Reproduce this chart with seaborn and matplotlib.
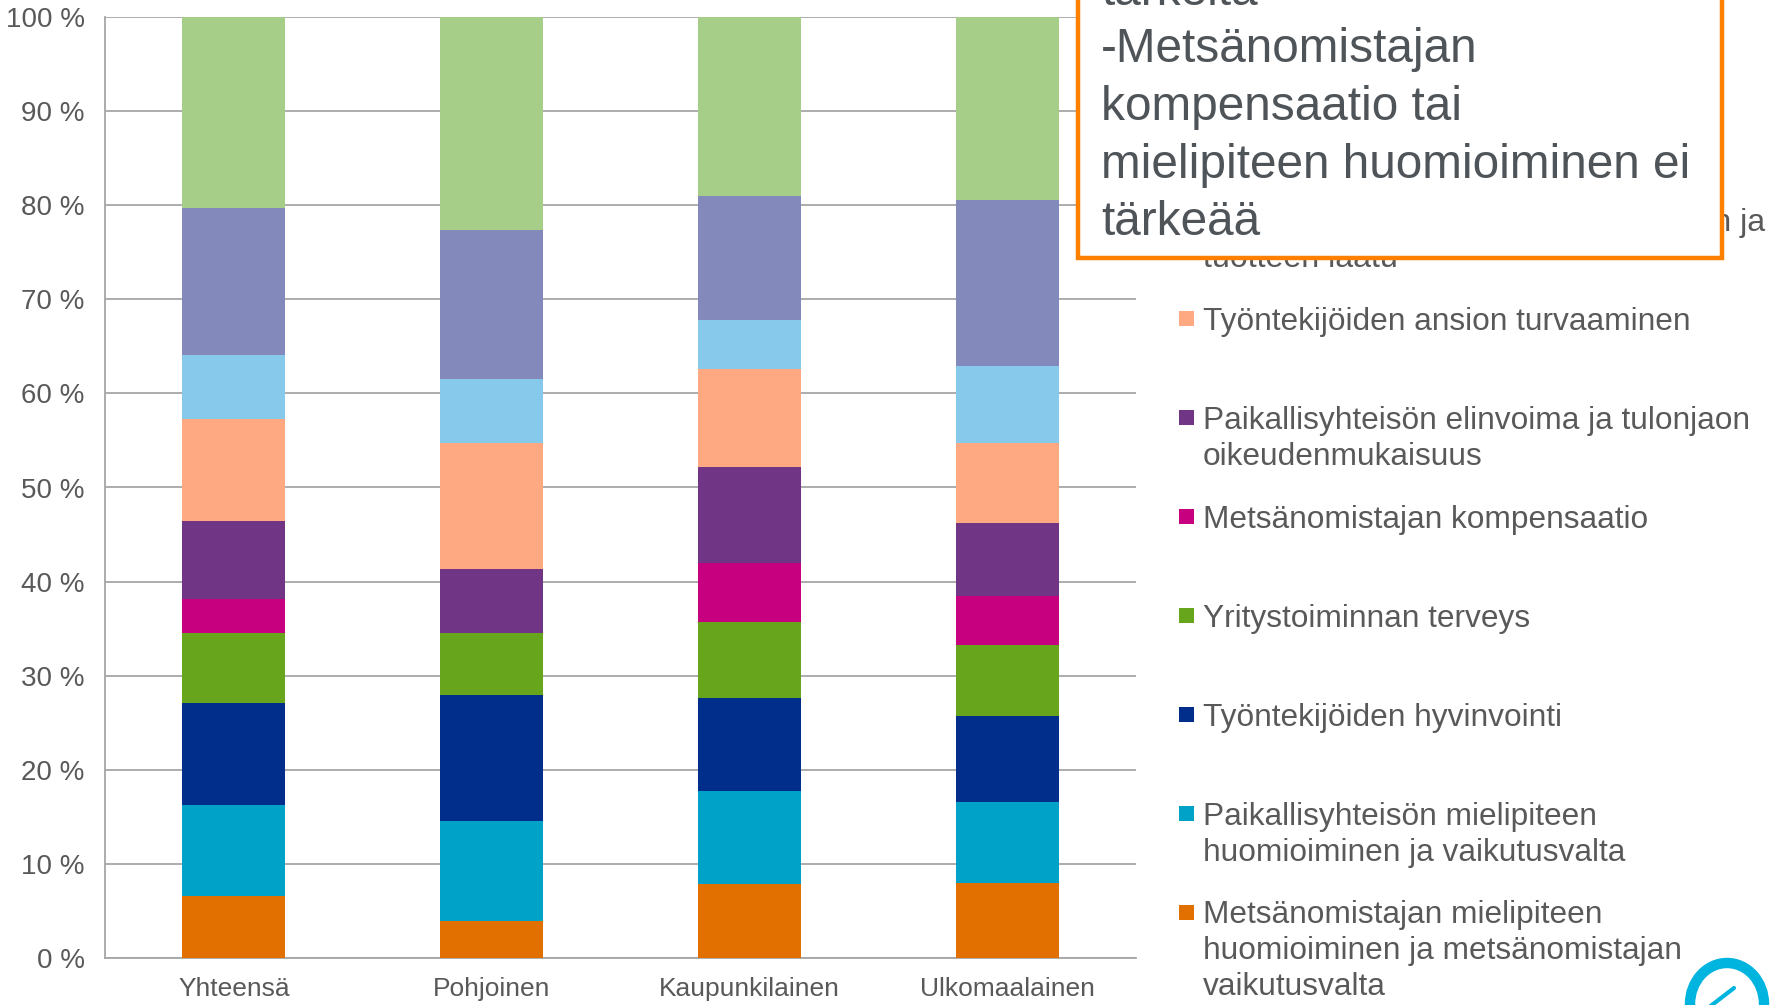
import numpy as np
import pandas as pd
import matplotlib
matplotlib.use("Agg")
import matplotlib.pyplot as plt
from matplotlib.patches import Rectangle, Ellipse
from matplotlib.lines import Line2D
import seaborn as sns

# ---------------- data ----------------
categories = ["Yhteensä", "Pohjoinen", "Kaupunkilainen", "Ulkomaalainen"]

series_labels = [
    "Metsänomistajan mielipiteen\nhuomioiminen ja metsänomistajan\nvaikutusvalta",
    "Paikallisyhteisön mielipiteen\nhuomioiminen ja vaikutusvalta",
    "Työntekijöiden hyvinvointi",
    "Yritystoiminnan terveys",
    "Metsänomistajan kompensaatio",
    "Paikallisyhteisön elinvoima ja tulonjaon\noikeudenmukaisuus",
    "Työntekijöiden ansion turvaaminen",
    "Metsänhoidon ja puunkorjuun laadun ja\ntuotteen laatu",
    "Ympäristön tila",
    "Luonnon monimuotoisuus",
]

series_colors = ["#E17000", "#00A2C8", "#002E8A", "#67A61C", "#C70080",
                 "#713585", "#FFA983", "#86C9EB", "#8489BB", "#A7CE88"]

# percent shares per category (bottom -> top)
v_metsanomistaja_mielipide = [6.6, 3.9, 7.9, 8.0]
v_paikallis_mielipide      = [9.7, 10.65, 9.9, 8.6]
v_tyontekija_hyvinvointi   = [10.8, 13.35, 9.85, 9.1]
v_yritystoiminta           = [7.4, 6.65, 8.05, 7.6]
v_kompensaatio             = [3.6, 0.0, 6.25, 5.15]
v_paikallis_elinvoima      = [8.3, 6.8, 10.25, 7.75]
v_ansio                    = [10.9, 13.35, 10.35, 8.55]
v_laatu                    = [6.8, 6.8, 5.3, 8.2]
v_ymparisto                = [15.6, 15.85, 13.15, 17.55]
v_monimuotoisuus           = [20.3, 22.6, 19.0, 19.5]

values = [v_metsanomistaja_mielipide, v_paikallis_mielipide, v_tyontekija_hyvinvointi,
          v_yritystoiminta, v_kompensaatio, v_paikallis_elinvoima, v_ansio,
          v_laatu, v_ymparisto, v_monimuotoisuus]

ytick_values = [0, 10, 20, 30, 40, 50, 60, 70, 80, 90, 100]
ytick_labels = [f"{v} %" for v in ytick_values]

box_lines = ["tärkeitä", "-Metsänomistajan", "kompensaatio tai",
             "mielipiteen huomioiminen ei", "tärkeää"]

# ---------------- style ----------------
sns.set_theme(style="white")
plt.rcParams["font.family"] = ["Liberation Sans", "DejaVu Sans"]
TXT = "#595959"
GRID = "#A6A6A6"

W, H = 1774, 1005
fig = plt.figure(figsize=(W / 100, H / 100), dpi=100)
ax = fig.add_axes([105 / W, 47 / H, (1136 - 105) / W, (958 - 17) / H])

arr = np.array(values, dtype=float)
frac = arr / arr.sum(axis=0, keepdims=True)
cum = np.cumsum(frac, axis=0)

# overlay cumulative bars from top series down
for i in range(len(values) - 1, -1, -1):
    df = pd.DataFrame({"cat": categories, "val": cum[i]})
    sns.barplot(data=df, x="cat", y="val", order=categories, color=series_colors[i],
                saturation=1, width=0.4, errorbar=None, linewidth=0,
                edgecolor="none", ax=ax, zorder=3)

ax.set_xlim(-0.5, 3.5)
ax.set_ylim(0, 1)
ax.set_xlabel("")
ax.set_ylabel("")
ax.set_yticks(np.array(ytick_values) / 100)
ax.set_yticklabels(ytick_labels)
ax.set_xticks(range(len(categories)))
ax.set_xticklabels(categories)
ax.set_xticks(np.arange(-0.5, len(categories)), minor=True)
ax.tick_params(axis="x", which="major", length=0, pad=14, labelsize=19, labelcolor=TXT)
ax.tick_params(axis="x", which="minor", length=6, width=1.3, color=GRID, direction="out")
ax.tick_params(axis="y", length=6, width=1.3, color=GRID, direction="out",
               pad=8.5, labelsize=20, labelcolor=TXT)
ax.yaxis.grid(True, color=GRID, linewidth=1.3)
ax.set_axisbelow(True)
for s in ["top", "right"]:
    ax.spines[s].set_visible(False)
for s in ["left", "bottom"]:
    ax.spines[s].set_color(GRID)
    ax.spines[s].set_linewidth(1.3)

# ---------------- legend (PowerPoint style, marker at first line) ----------------
def fy(py):
    return 1 - py / H

def fx(px):
    return px / W

BOX_BOTTOM = 258
for i, lab in enumerate(series_labels):
    cy = 912 - 98.9 * i
    lines = lab.split("\n")
    # entries lying completely under the annotation box are not visible
    if cy + 11.4 + 36 * (len(lines) - 1) < BOX_BOTTOM - 40:
        continue
    fs = 23.1 if cy < BOX_BOTTOM else 22.8
    fig.patches.append(Rectangle((fx(1179), fy(cy + 7.5)), 15 / W, 15 / H,
                                 transform=fig.transFigure, facecolor=series_colors[i],
                                 edgecolor="none", zorder=5))
    for k, line in enumerate(lines):
        fig.text(fx(1203), fy(cy + 11.4 + 36 * k), line, fontsize=fs, color=TXT,
                 ha="left", va="baseline", zorder=5)

# ---------------- annotation box ----------------
fig.patches.append(Rectangle((fx(1078), fy(BOX_BOTTOM)), (1722 - 1078) / W, (BOX_BOTTOM + 20) / H,
                             transform=fig.transFigure, facecolor="white",
                             edgecolor="#FF8000", linewidth=3.2, zorder=10))
base0 = 235 - 57.5 * (len(box_lines) - 1)
for k, line in enumerate(box_lines):
    fig.text(fx(1101), fy(base0 + 57.5 * k), line, fontsize=34.4, color="#4F5459",
             ha="left", va="baseline", zorder=11)

# ---------------- logo (partial leaf) ----------------
fig.patches.append(Ellipse((fx(1727), fy(1004)), 74 / W, 82 / H, transform=fig.transFigure,
                           facecolor="none", edgecolor="#00B4E0", linewidth=7.5, zorder=6))
fig.lines.append(Line2D([fx(1708), fx(1734)], [fy(1008), fy(988)], transform=fig.transFigure,
                        color="#00B4E0", linewidth=3, zorder=6))

fig.savefig("out.png", dpi=100)
